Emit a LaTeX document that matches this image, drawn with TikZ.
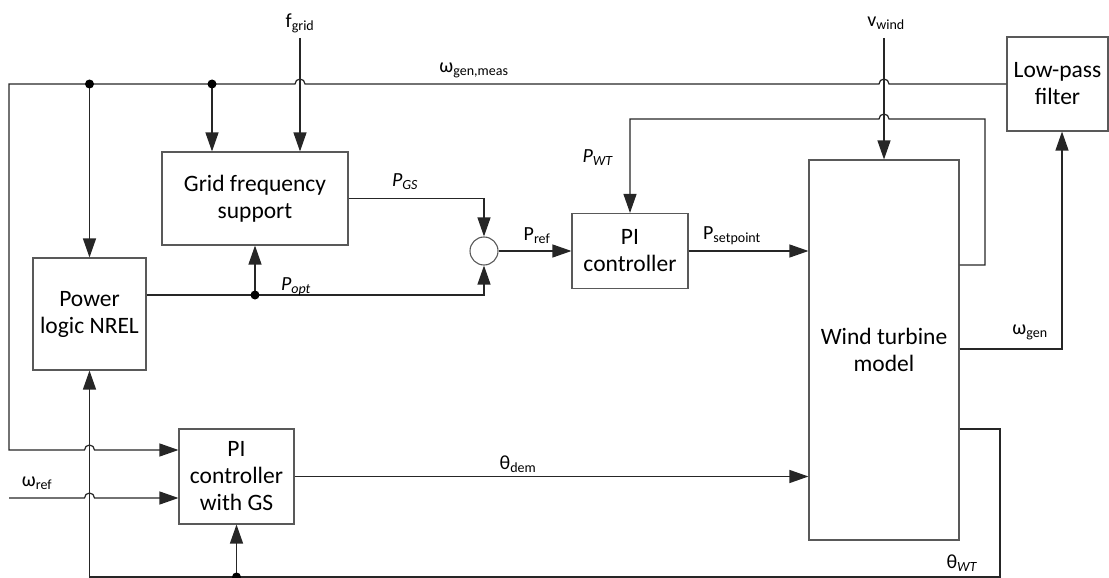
\documentclass[tikz,border=0pt]{standalone}
\usepackage{fontspec}
\setmainfont{Carlito}
\usetikzlibrary{arrows.meta}
\begin{document}
\begin{tikzpicture}[x=1pt,y=-1pt,
  block/.style={draw=black!65, line width=1.1pt, fill=white, align=center, inner sep=0pt,
                font=\fontsize{23.5}{27}\selectfont},
  wire/.style={line width=1.2pt, draw=black!85},
  arr/.style={wire, -{Triangle[length=19pt,width=13pt]}},
  lbl/.style={font=\fontsize{20}{22}\selectfont, inner sep=0pt},
  jdot/.style={circle, fill=black, inner sep=0pt, minimum size=9pt},
]
\useasboundingbox (0,0) rectangle (1109,578);

% blocks
\node[block, minimum width=186, minimum height=93] (gfs) at (255,198.5) {Grid frequency\\support};
\node[block, minimum width=113, minimum height=112] (plog) at (89.5,314) {Power\\logic NREL};
\node[block, minimum width=116, minimum height=75] (pic) at (630,251) {PI\\controller};
\node[block, minimum width=115, minimum height=95] (pigs) at (236.5,476.5) {PI\\controller\\with GS};
\node[block, minimum width=150, minimum height=380] (wt) at (884,350) {Wind turbine\\model};
\node[block, minimum width=101, minimum height=94] (lpf) at (1057.5,84) {Low-pass\\filter};
\node[circle, draw=black!65, line width=1.1pt, minimum size=28, inner sep=0pt] (sum) at (484,251) {};

% corner and junction points
\coordinate (dA) at (89.5,84);
\coordinate (dB) at (212,84);
\coordinate (lc1) at (9,84);
\coordinate (lc2) at (9,450);
\coordinate (wr) at (9,498);
\coordinate (fg) at (300,38);
\coordinate (vw) at (884,38);
\coordinate (dP) at (255,295);
\coordinate (pw1) at (985,265);
\coordinate (pw2) at (985,119);
\coordinate (wg) at (1062,349);
\coordinate (tw1) at (1000,429);
\coordinate (tw2) at (1000,577);
\coordinate (dT) at (236.5,577);

% measured generator speed bus
\draw[arr] (lpf.west) -- (889,84) arc[start angle=0,end angle=-180,radius=5]
  -- (305,84) arc[start angle=0,end angle=-180,radius=5]
  -- (lc1) -- (lc2) -- (84.5,450) arc[start angle=180,end angle=360,radius=5]
  -- (pigs.west |- lc2);
\draw[arr] (dA) -- (plog.north);
\draw[arr] (dB) -- (dB |- gfs.north);
\node[jdot] at (dA) {};
\node[jdot] at (dB) {};

% external inputs
\draw[arr] (fg) -- (fg |- gfs.north);
\draw[arr] (vw) -- (wt.north);
\draw[arr] (wr) -- (84.5,498) arc[start angle=180,end angle=360,radius=5] -- (pigs.west |- wr);

% power path
\draw[arr] (gfs.east) -- (gfs.east -| sum.north) -- (sum.north);
\draw[arr] (plog.east |- dP) -- (sum.south |- dP) -- (sum.south);
\draw[arr] (dP) -- (gfs.south);
\node[jdot] at (dP) {};
\draw[arr] (sum.east) -- (pic.west);
\draw[arr] (pic.east) -- (pic.east -| wt.west);
\draw[arr] (wt.east |- pw1) -- (pw1) -- (pw2) -- (889,119) arc[start angle=0,end angle=-180,radius=5]
  -- (pic.north |- pw2) -- (pic.north);

% generator speed to filter
\draw[arr] (wt.east |- wg) -- (wg) -- (wg |- lpf.south);

% pitch path
\draw[arr] (pigs.east) -- (pigs.east -| wt.west);
\draw[arr] (wt.east |- tw1) -- (tw1) -- (tw2) -- (plog.south |- tw2) -- (plog.south);
\draw[arr] (dT) -- (pigs.south);
\node[jdot] at (dT) {};

% signal labels
\node[lbl] (lfg) at (300,23) {f\textsubscript{grid}};
\node[lbl] (lvw) at (886,23) {v\textsubscript{wind}};
\node[lbl] (lwm) at (474,70) {ω\textsubscript{gen,meas}};
\node[lbl] (lpg) at (405,182) {\textit{P}\textsubscript{\textit{GS}}};
\node[lbl] (lpo) at (296,287) {\textit{P}\textsubscript{\textit{opt}}};
\node[lbl] (lpr) at (537,236) {P\textsubscript{ref}};
\node[lbl] (lpw) at (598,158) {\textit{P}\textsubscript{\textit{WT}}};
\node[lbl] (lps) at (732,236) {P\textsubscript{setpoint}};
\node[lbl] (lwg) at (1030,332) {ω\textsubscript{gen}};
\node[lbl] (ltd) at (518,464) {θ\textsubscript{dem}};
\node[lbl] (ltw) at (962,563) {θ\textsubscript{\textit{WT}}};
\node[lbl] (lwr) at (37,483) {ω\textsubscript{ref}};
\end{tikzpicture}
\end{document}
